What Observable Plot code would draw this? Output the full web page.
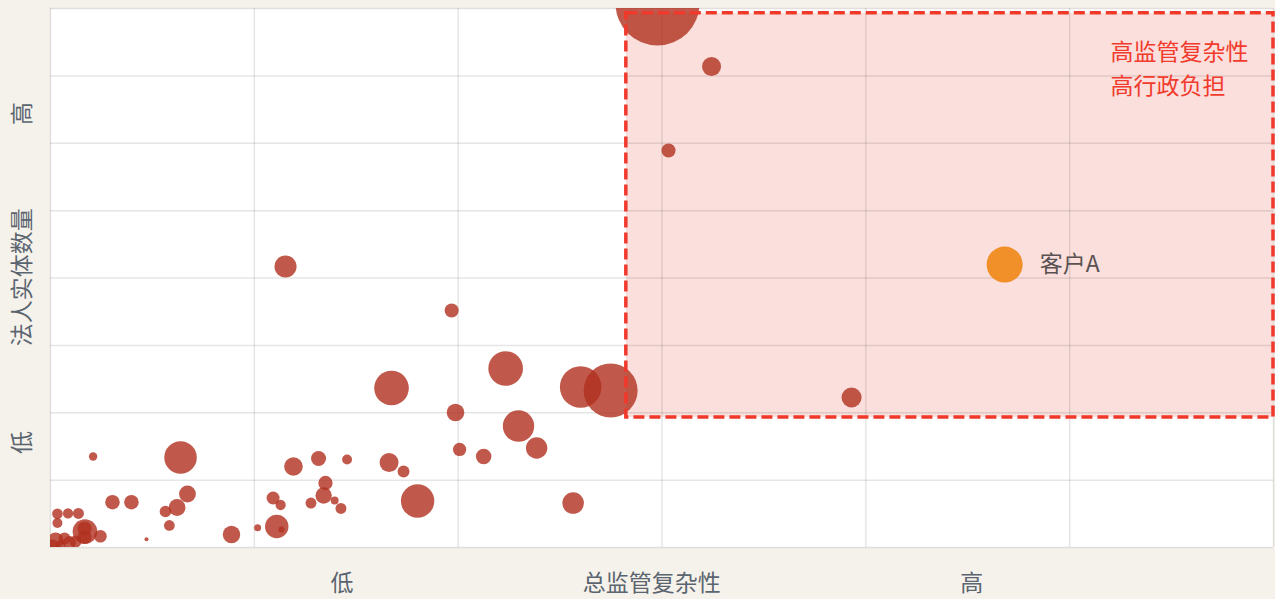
<!DOCTYPE html>
<html>
<head>
<meta charset="utf-8">
<script src="https://cdn.jsdelivr.net/npm/d3@7"></script>
<script src="https://cdn.jsdelivr.net/npm/@observablehq/plot@0.6"></script>
<style>
  html, body { margin: 0; padding: 0; background: #f5f2eb; }
  #chart svg { display: block; }
</style>
</head>
<body>
<div id="chart"></div>
<script>
// Bubble data (x = regulatory complexity, y = number of legal entities, size = bubble value)
const bubbleX = [2.978, 3.243, 3.032, 3.930, 1.153, 1.968, 2.233, 2.601, 2.748, 1.673,
  1.987, 2.296, 2.385, 2.007, 2.125, 1.661, 1.732, 1.455, 0.638, 0.209,
  1.192, 1.315, 1.801, 2.564, 1.092, 1.129, 1.349, 1.340, 1.278, 1.394,
  1.425, 1.110, 1.133, 1.016, 0.304, 0.397, 0.672, 0.621, 0.564, 0.583,
  0.888, 0.471, 0.034, 0.086, 0.137, 0.034, 0.169, 0.167, 0.167, 0.245,
  0.025, 0.069, 0.093, 0.010, 0.049, 0.123];
const bubbleY = [8.074, 7.139, 5.893, 2.226, 4.171, 3.518, 2.657, 2.382, 2.330, 2.367,
  2.004, 1.803, 1.477, 1.455, 1.351, 1.262, 1.128, 1.306, 1.336, 1.351,
  1.202, 1.321, 0.690, 0.660, 0.735, 0.631, 0.957, 0.772, 0.660, 0.698,
  0.579, 0.312, 0.267, 0.292, 0.672, 0.672, 0.794, 0.594, 0.534, 0.327,
  0.193, 0.123, 0.500, 0.505, 0.505, 0.364, 0.237, 0.282, 0.156, 0.168,
  0.104, 0.134, 0.074, 0.015, 0.030, 0.089];
const bubbleSize = [100, 5.1, 2.8, 5.7, 6.9, 2.8, 17, 24.5, 41.3, 17,
  4.4, 14, 6.5, 2.5, 3.4, 5.1, 2.0, 1.4, 15, 1.0,
  4.9, 3.2, 15.8, 6.6, 2.4, 1.5, 2.9, 3.8, 1.7, 0.9,
  1.7, 7.8, 0.5, 0.7, 3.0, 3.0, 4.0, 4.0, 1.9, 1.65,
  4.3, 0.23, 1.6, 1.5, 1.7, 1.4, 8.6, 2.8, 2.8, 2.25,
  3.6, 2.0, 2.4, 2.8, 1.4, 2.0];

// Highlighted client
const clientName = ["客户A"];
const clientX = [4.681];
const clientY = [4.200];
const clientSize = [18.4];

// High-complexity zone
const zoneX = [2.825, 6];
const zoneY = [1.93, 7.93];
const zoneLabel = ["高监管复杂性\n高行政负担"];
const zoneLabelX = [5.20];
const zoneLabelY = [7.14];

// Axis labels
const xLabels = ["低", "总监管复杂性", "高"];
const xLabelPos = [1.43, 2.95, 4.52];
const yLabels = ["高", "法人实体数量", "低"];
const yLabelPos = [6.44, 4.01, 1.56];

// Grid ticks
const xTicks = [0, 1, 2, 3, 4, 5, 6];
const yTicks = [0, 1, 2, 3, 4, 5, 6, 7, 8];

const bubbles = bubbleX.map((x, i) => ({x, y: bubbleY[i], size: bubbleSize[i]}));
const clients = clientName.map((name, i) => ({name, x: clientX[i], y: clientY[i], size: clientSize[i]}));
const zone = [{x1: zoneX[0], x2: zoneX[1], y1: zoneY[0], y2: zoneY[1]}];
const zoneText = zoneLabel.map((t, i) => ({t, x: zoneLabelX[i], y: zoneLabelY[i]}));
const xLab = xLabels.map((t, i) => ({t, x: xLabelPos[i]}));
const yLab = yLabels.map((t, i) => ({t, y: yLabelPos[i]}));

const font = "'Noto Sans CJK SC', 'Noto Sans', sans-serif";

const chart = Plot.plot({
  width: 1275,
  height: 599,
  marginLeft: 50,
  marginRight: 2,
  marginTop: 8,
  marginBottom: 52,
  x: {domain: [0, 6], axis: null},
  y: {domain: [0, 8], axis: null},
  r: {type: "sqrt", domain: [0, 100], range: [0, 42]},
  style: {background: "#f5f2eb", fontFamily: font},
  marks: [
    Plot.frame({fill: "white", stroke: "none"}),
    Plot.rect(zone, {x1: "x1", x2: "x2", y1: "y1", y2: "y2", fill: "#fadfdc"}),
    Plot.gridX(xTicks, {stroke: "#000", strokeOpacity: 0.1, strokeWidth: 1.5}),
    Plot.gridY(yTicks, {stroke: "#000", strokeOpacity: 0.1, strokeWidth: 1.5}),
    Plot.dot(bubbles, {x: "x", y: "y", r: "size", fill: "#b0301e", fillOpacity: 0.8, clip: true}),
    Plot.rect(zone, {x1: "x1", x2: "x2", y1: "y1", y2: "y2", fill: "none", stroke: "#f0392b", strokeWidth: 3.5, strokeDasharray: "11,5"}),
    Plot.dot(clients, {x: "x", y: "y", r: "size", fill: "#f08a1e", fillOpacity: 0.95}),
    Plot.text(clients, {x: "x", y: "y", text: "name", textAnchor: "start", dx: 35, fontSize: 23, fill: "#5a5252"}),
    Plot.text(zoneText, {x: "x", y: "y", text: "t", textAnchor: "start", lineAnchor: "middle", lineHeight: 1.45, fontSize: 23, fill: "#f23b2c"}),
    Plot.text(xLab, {x: "x", text: "t", frameAnchor: "bottom", lineAnchor: "middle", dy: 36, fontSize: 23, fill: "#5b6570"}),
    Plot.text(yLab, {y: "y", text: "t", frameAnchor: "left", textAnchor: "middle", lineAnchor: "middle", dx: -28, rotate: -90, fontSize: 23, fill: "#5b6570"})
  ]
});

document.getElementById("chart").appendChild(chart);
</script>
</body>
</html>
